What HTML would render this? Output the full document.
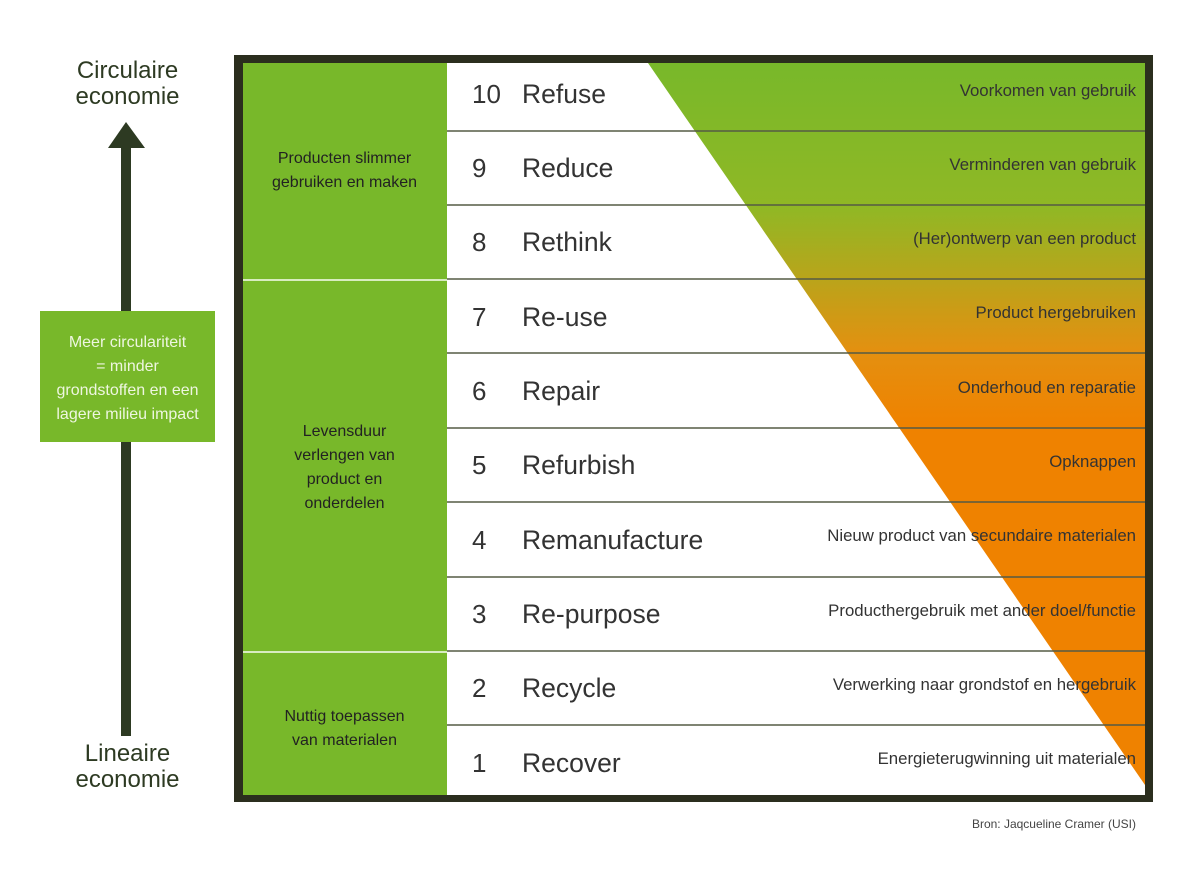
<!DOCTYPE html><html><head><style>
body{margin:0;width:1200px;height:873px;background:#fff;position:relative;font-family:"Liberation Sans",sans-serif;overflow:hidden}
.a{position:absolute}
.num{position:absolute;left:472px;font-size:26px;color:#333}
.nm{position:absolute;left:522px;font-size:26.5px;color:#333}
.ds{position:absolute;right:64px;font-size:16.8px;color:#333;text-align:right}
.grp{position:absolute;left:243px;width:203px;font-size:16px;color:#222;text-align:center;line-height:24px}
</style></head><body>
<div class="a" style="left:234px;top:55px;width:919px;height:747px;background:#2b2e1e"></div>
<div class="a" style="left:243px;top:63px;width:902px;height:732px;background:#fff"></div>
<div class="a" style="left:243px;top:63px;width:204px;height:732px;background:#78b82a"></div>
<div class="a" style="left:243px;top:279px;width:204px;height:2px;background:#d8ecc0"></div>
<div class="a" style="left:243px;top:651px;width:204px;height:2px;background:#d8ecc0"></div>
<svg class="a" style="left:0;top:0" width="1200" height="873">
<defs><linearGradient id="g" x1="0" y1="63" x2="0" y2="785" gradientUnits="userSpaceOnUse">
<stop offset="0" stop-color="#78b82a"/><stop offset="0.2" stop-color="#90b825"/><stop offset="0.4" stop-color="#e49010"/><stop offset="0.5" stop-color="#ef8200"/><stop offset="1" stop-color="#ef8200"/></linearGradient></defs>
<polygon points="648,63 1145,63 1145,785" fill="url(#g)"/>
<g stroke="#555b45" stroke-width="1.5">
<line x1="447" x2="1145" y1="131" y2="131"/><line x1="447" x2="1145" y1="205" y2="205"/><line x1="447" x2="1145" y1="279" y2="279"/><line x1="447" x2="1145" y1="353" y2="353"/><line x1="447" x2="1145" y1="428" y2="428"/><line x1="447" x2="1145" y1="502" y2="502"/><line x1="447" x2="1145" y1="577" y2="577"/><line x1="447" x2="1145" y1="651" y2="651"/><line x1="447" x2="1145" y1="725" y2="725"/>
</g>
<rect x="121" y="146" width="10" height="590" fill="#2d3a22"/>
<polygon points="108,148 126,122 145,148" fill="#2d3a22"/>
</svg>
<div class="a" style="left:40px;top:311px;width:175px;height:131px;background:#78b82a;color:#eef6e0;font-size:16px;text-align:center;line-height:24px;padding-top:20px;box-sizing:border-box">Meer circulariteit<br>= minder<br>grondstoffen en een<br>lagere milieu impact</div>
<div class="a" style="left:40px;top:58px;width:175px;text-align:center;font-size:24px;line-height:26px;color:#2d3a22">Circulaire<br>economie</div>
<div class="a" style="left:40px;top:741px;width:175px;text-align:center;font-size:24px;line-height:26px;color:#2d3a22">Lineaire<br>economie</div>
<div class="grp" style="top:147px">Producten slimmer<br>gebruiken en maken</div>
<div class="grp" style="top:420px">Levensduur<br>verlengen van<br>product en<br>onderdelen</div>
<div class="grp" style="top:705px">Nuttig toepassen<br>van materialen</div>
<div class="num" style="top:79px">10</div><div class="nm" style="top:79px">Refuse</div><div class="ds" style="top:81px">Voorkomen van gebruik</div>
<div class="num" style="top:153px">9</div><div class="nm" style="top:153px">Reduce</div><div class="ds" style="top:155px">Verminderen van gebruik</div>
<div class="num" style="top:227px">8</div><div class="nm" style="top:227px">Rethink</div><div class="ds" style="top:229px">(Her)ontwerp van een product</div>
<div class="num" style="top:302px">7</div><div class="nm" style="top:302px">Re-use</div><div class="ds" style="top:303px">Product hergebruiken</div>
<div class="num" style="top:376px">6</div><div class="nm" style="top:376px">Repair</div><div class="ds" style="top:378px">Onderhoud en reparatie</div>
<div class="num" style="top:450px">5</div><div class="nm" style="top:450px">Refurbish</div><div class="ds" style="top:452px">Opknappen</div>
<div class="num" style="top:525px">4</div><div class="nm" style="top:525px">Remanufacture</div><div class="ds" style="top:526px">Nieuw product van secundaire materialen</div>
<div class="num" style="top:599px">3</div><div class="nm" style="top:599px">Re-purpose</div><div class="ds" style="top:601px">Producthergebruik met ander doel/functie</div>
<div class="num" style="top:673px">2</div><div class="nm" style="top:673px">Recycle</div><div class="ds" style="top:675px">Verwerking naar grondstof en hergebruik</div>
<div class="num" style="top:748px">1</div><div class="nm" style="top:748px">Recover</div><div class="ds" style="top:749px">Energieterugwinning uit materialen</div>
<div class="a" style="right:64px;top:817px;font-size:12px;color:#444">Bron: Jaqcueline Cramer (USI)</div>
</body></html>
